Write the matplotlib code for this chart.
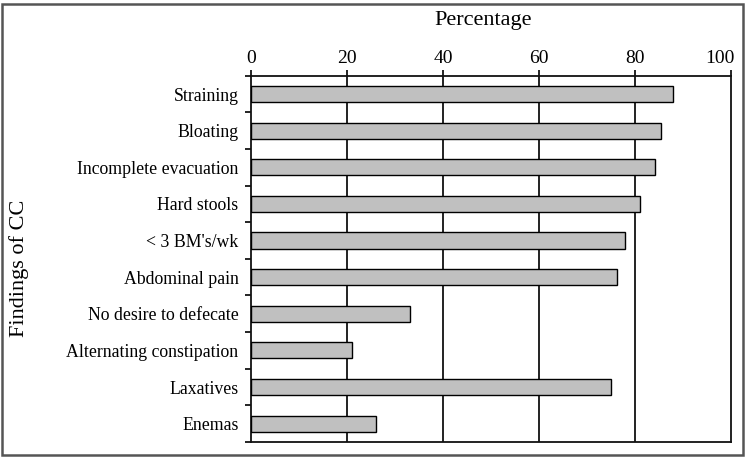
import matplotlib
matplotlib.use('Agg')
import matplotlib.pyplot as plt
import matplotlib.transforms as mtransforms
from matplotlib.patches import Rectangle

# findings of chronic constipation, top to bottom
findings = ['Straining', 'Bloating', 'Incomplete evacuation', 'Hard stools',
            "< 3 BM's/wk", 'Abdominal pain', 'No desire to defecate',
            'Alternating constipation', 'Laxatives', 'Enemas']
percent = [88.0, 85.5, 84.2, 81.0, 78.0, 76.2, 33.1, 21.0, 75.1, 26.0]
xticks = [0, 20, 40, 60, 80, 100]

plt.rcParams['font.family'] = ['Liberation Serif', 'DejaVu Serif']

fig = plt.figure(figsize=(7.46, 4.57), dpi=100)
ax = fig.add_axes([251/746, 1 - 442/457, 480/746, (442-75.7)/457])

ypos = list(range(len(findings)))
ax.barh(ypos, percent, height=0.44, color='#c0c0c0', edgecolor='black',
        linewidth=1.0, zorder=3)

ax.set_xlim(0, 100)
ax.set_ylim(len(findings) - 0.5, -0.5)
ax.set_xticks(xticks)
ax.xaxis.tick_top()
ax.tick_params(axis='x', direction='out', length=4, width=1.2, labelsize=14, pad=2)
for x in xticks[1:-1]:
    ax.axvline(x, color='#222222', lw=1.4, zorder=1)

# last label nudged left so it stays inside the frame
lbl = ax.get_xticklabels()[-1]
lbl.set_transform(lbl.get_transform() +
                  mtransforms.ScaledTranslation(-11/100, 0, fig.dpi_scale_trans))

# category labels between boundary ticks
ax.set_yticks(ypos)
ax.set_yticklabels(findings, fontsize=12.8)
ax.tick_params(axis='y', which='major', length=0, pad=9)
ax.set_yticks([i - 0.5 for i in range(len(findings) + 1)], minor=True)
ax.tick_params(axis='y', which='minor', direction='out', length=4, width=1.2)

for s in ax.spines.values():
    s.set_linewidth(1.3)
    s.set_color('#111111')

fig.text(483/746, 1 - 20/457, 'Percentage', ha='center', va='center', fontsize=16)
fig.text(19/746, 1 - 268/457, 'Findings of CC', ha='center', va='center',
         rotation=90, fontsize=16)

fig.patches.append(Rectangle((2/746, 2/457), 741/746, 451/457, transform=fig.transFigure,
                             fill=False, edgecolor='#555555', lw=1.8))

plt.savefig('out.png', dpi=100)
